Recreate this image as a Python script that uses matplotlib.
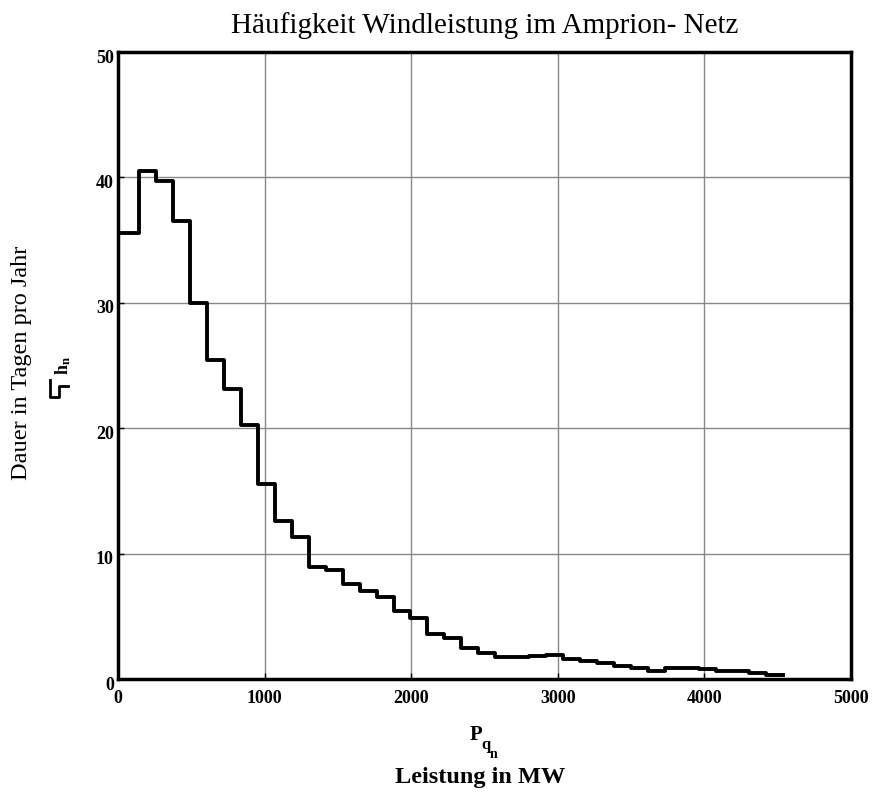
import matplotlib
matplotlib.use('Agg')
import matplotlib.pyplot as plt
import matplotlib.transforms as mtransforms
from matplotlib.lines import Line2D

plt.rcParams['font.family'] = ['Liberation Serif', 'DejaVu Serif']
plt.rcParams['mathtext.fontset'] = 'custom'
plt.rcParams['mathtext.rm'] = 'Liberation Serif'
plt.rcParams['mathtext.it'] = 'Liberation Serif'
plt.rcParams['mathtext.bf'] = 'Liberation Serif:bold'

# bin edges in MW
edges = [30, 146, 261, 377, 492, 608, 724, 839, 955, 1070, 1186, 1302, 1417,
         1533, 1648, 1764, 1880, 1995, 2111, 2226, 2342, 2458, 2573, 2689,
         2804, 2920, 3036, 3151, 3267, 3382, 3498, 3614, 3729, 3845, 3960,
         4076, 4192, 4307, 4423, 4538]
# days per year for each bin
days = [35.6, 40.5, 39.7, 36.5, 30.0, 25.4, 23.1, 20.25, 15.55, 12.6, 11.35,
        8.95, 8.7, 7.6, 7.05, 6.56, 5.45, 4.84, 3.56, 3.24, 2.44, 2.1, 1.78,
        1.75, 1.8, 1.95, 1.6, 1.43, 1.3, 1.04, 0.9, 0.64, 0.9, 0.88, 0.77,
        0.64, 0.6, 0.45, 0.3]

W, H = 874, 793
fig = plt.figure(figsize=(W / 100, H / 100), dpi=100)
ax = fig.add_axes([118 / W, 1 - 679 / H, (851 - 118) / W, (679 - 52) / H])

ax.step(edges, days + [days[-1]], where='post', color='black', linewidth=2.8)

ax.set_xlim(0, 5000)
ax.set_ylim(0, 50)
ax.set_xticks([0, 1000, 2000, 3000, 4000, 5000])
ax.set_yticks([0, 10, 20, 30, 40, 50])
ax.grid(True, color='#888888', linewidth=1.0)
ax.set_axisbelow(True)
for s in ax.spines.values():
    s.set_linewidth(2.5)
    s.set_color('black')
ax.tick_params(direction='in', length=4, width=1, labelsize=13)
ax.tick_params(axis='x', pad=8)
ax.tick_params(axis='y', pad=3)
shift = mtransforms.ScaledTranslation(0, -4 / 100, fig.dpi_scale_trans)
for lbl in ax.get_xticklabels() + ax.get_yticklabels():
    lbl.set_fontweight('bold')
for lbl in ax.get_yticklabels():
    lbl.set_transform(lbl.get_transform() + shift)

cx = 0.5 * (118 + 851) / W
fig.text(cx, 1 - 26 / H, 'Häufigkeit Windleistung im Amprion- Netz',
         ha='center', va='center', fontsize=21)
# P with stacked subscripts q, n (Mathcad style)
fig.text(476 / W, 1 - 735 / H, 'P', ha='center', va='center',
         fontsize=15, fontweight='bold')
fig.text(486 / W, 1 - 745 / H, 'q', ha='center', va='center',
         fontsize=12, fontweight='bold')
fig.text(494 / W, 1 - 754 / H, 'n', ha='center', va='center',
         fontsize=10, fontweight='bold')
fig.text(cx - 4 / W, 1 - 778 / H, 'Leistung in MW',
         ha='center', va='center', fontsize=17.5, fontweight='bold')
fig.text(22 / W, 1 - 363 / H, 'Dauer in Tagen pro Jahr', rotation=90,
         ha='center', va='center', fontsize=17.5)
fig.text(63 / W, 1 - 366 / H, r'$\mathbf{h}_{\mathbf{n}}$', rotation=90,
         ha='center', va='center', fontsize=13)
# small line sample next to the y label
sx = [50, 50, 59, 59, 68]
sy = [380, 397, 397, 386, 386]
fig.add_artist(Line2D([x / W for x in sx], [1 - y / H for y in sy],
                      color='black', linewidth=2))

fig.savefig('out.png', dpi=100)
